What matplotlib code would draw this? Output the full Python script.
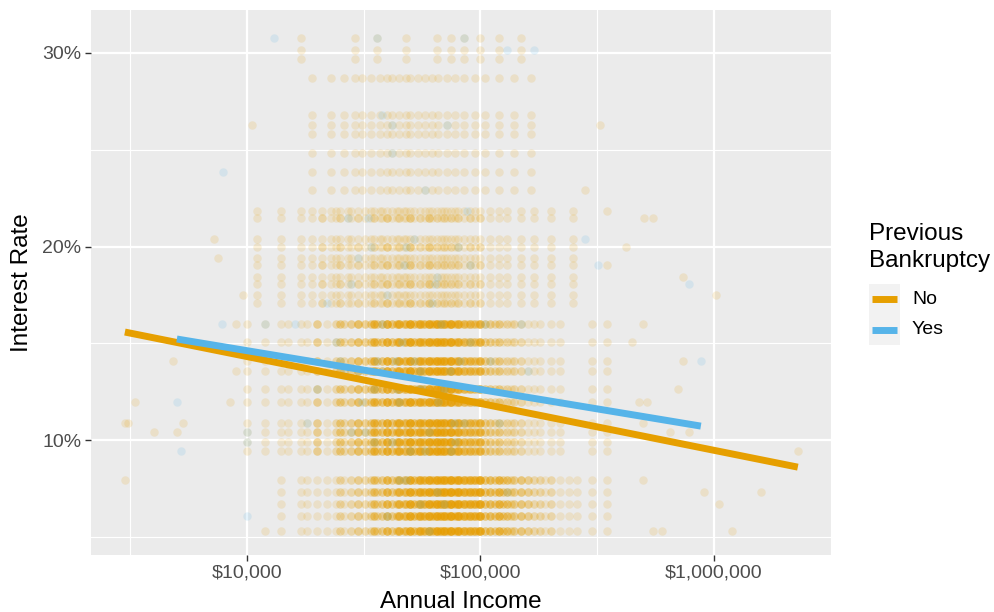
import numpy as np
import matplotlib
matplotlib.use('Agg')
import matplotlib.pyplot as plt
from matplotlib.ticker import FixedLocator, FuncFormatter, NullFormatter
from matplotlib.lines import Line2D
from matplotlib.patches import Rectangle

plt.rcParams['font.family'] = ['Liberation Sans', 'DejaVu Sans']

# groups / colours
groups = ['No', 'Yes']
group_colors = ['#E69F00', '#56B4E9']

# interest-rate bands (%)
dense_low_rates = [5.31, 6.07, 6.72, 7.34, 7.96]
dense_mid_rates = [9.43, 9.92, 10.42, 10.90, 11.98, 12.62, 13.58, 14.07, 15.04, 15.99]
mid_main_rates = [17.09, 18.06, 19.03, 20.00, 21.45]
mid_side_rates = [17.47, 18.45, 19.42, 20.39, 21.85]
sparse_rates = [22.91, 23.87, 24.85, 25.82, 26.30, 26.77, 28.72]
top_rates = [29.69, 30.17, 30.79]

# annual income (thousand $) seen along the dense bands, with how many loans stack there
dense_income_k = [10, 12, 14, 15, 17, 18, 20, 22, 24, 25,
                  26, 28, 30, 32, 34, 35, 36, 38, 40, 42,
                  44, 45, 47, 48, 50, 52, 54, 55, 57, 58,
                  60, 62, 64, 65, 67, 68, 70, 72, 74, 75,
                  78, 80, 82, 85, 88, 90, 93, 95, 98, 100,
                  105, 110, 115, 120, 125, 130, 135, 140, 150, 160,
                  170, 180, 190, 200, 220, 240, 260, 300, 350, 400]
count_low = [0, 0, 1, 0, 1, 1, 1, 1, 1, 2,
             1, 2, 3, 2, 2, 4, 2, 3, 6, 3,
             3, 6, 3, 4, 9, 4, 3, 7, 3, 4,
             9, 4, 3, 8, 3, 4, 9, 4, 3, 9,
             4, 9, 3, 7, 3, 7, 3, 5, 3, 9,
             4, 5, 3, 6, 3, 4, 2, 3, 4, 3,
             2, 2, 1, 2, 1, 1, 1, 1, 1, 0]
count_mid = [1, 1, 1, 1, 1, 1, 3, 1, 2, 3,
             2, 3, 5, 3, 3, 6, 3, 4, 8, 4,
             4, 7, 3, 4, 10, 4, 3, 7, 3, 3,
             9, 4, 3, 8, 3, 4, 8, 3, 3, 8,
             3, 7, 2, 5, 2, 5, 2, 3, 2, 6,
             3, 3, 2, 3, 1, 2, 1, 2, 2, 1,
             1, 1, 0, 1, 1, 0, 0, 1, 1, 0]

mid_income_k = [11, 14, 17, 19, 21, 23, 24, 25,
                27, 28, 30, 32, 34, 35, 37, 38, 40, 42,
                44, 45, 47, 48, 50, 52, 55, 58, 60, 62,
                65, 68, 70, 72, 75, 78, 80, 85, 90, 95,
                100, 110, 120, 130, 150, 170, 200, 250]
count_mid_main = [1, 1, 1, 1, 2, 1, 1, 2,
                  1, 1, 2, 1, 1, 2, 1, 1, 3, 1,
                  1, 2, 1, 1, 3, 1, 2, 1, 3, 1,
                  2, 1, 2, 1, 2, 1, 2, 1, 2, 1,
                  2, 1, 1, 1, 1, 1, 1, 1]

sparse_income_k = [19, 23, 26, 29, 31, 34, 37, 40, 42, 45, 48, 50,
                   54, 58, 62, 66, 72, 78, 85, 95, 105, 120, 140, 165]
top_income_k = [17, 29, 36, 48, 65, 75, 85, 100, 120, 150]

# scattered "No" loans away from the bands
no_out_income_k = [3.0, 3.1, 4.0, 5.0, 5.3, 3.0, 3.3, 8.5, 11.9, 7.2,
                   7.5, 4.8, 9.0, 9.6, 10.5, 9.0, 648, 780, 2300, 906,
                   1590, 1050, 1200, 600, 550, 735, 1020, 740, 700, 495,
                   445, 480, 515, 495, 495, 324, 350, 500, 550, 420,
                   350, 280]
no_out_rate = [10.90, 10.90, 10.42, 10.42, 10.90, 7.96, 11.98, 11.98, 5.31, 20.39,
               19.42, 14.07, 15.99, 17.47, 26.30, 13.58, 10.42, 10.42, 9.43, 7.34,
               7.34, 6.72, 5.31, 5.31, 5.31, 18.45, 17.47, 14.07, 12.62, 15.99,
               15.04, 11.98, 11.98, 10.90, 7.96, 26.30, 21.85, 21.45, 21.45, 20.00,
               19.03, 22.91]

# "Yes" loans
yes_income_k = [40, 55, 65, 48, 75, 35, 60, 85, 45, 70,
                30, 52, 90, 38, 62, 28, 47, 80, 33, 58,
                42, 72, 26, 100, 120, 50, 36, 68, 44, 95,
                32, 78, 55, 24, 110, 40, 65, 30, 52, 88,
                20, 150, 18, 130, 60, 70, 45, 35, 58, 25,
                7.8, 5.0, 5.2, 7.9, 13, 280, 318, 785, 880, 12,
                38, 82, 46, 66, 28, 54, 74, 42, 90, 34,
                10, 10, 10, 16, 36, 85, 130, 170, 42, 38,
                22, 64, 48, 105, 56, 31, 77, 43, 160, 27]
yes_rate = [6.07, 6.72, 7.34, 7.96, 9.43, 9.92, 10.42, 10.90, 11.98, 12.62,
            13.58, 14.07, 15.04, 15.99, 17.09, 18.06, 19.03, 20.00, 21.45, 22.91,
            24.85, 26.30, 13.58, 12.62, 10.90, 9.43, 14.07, 15.99, 12.62, 11.98,
            10.42, 9.92, 13.58, 15.04, 14.07, 17.47, 18.45, 19.42, 20.39, 21.85,
            12.62, 15.99, 10.90, 7.34, 5.31, 6.72, 7.96, 12.62, 9.43, 14.07,
            15.99, 11.98, 9.43, 23.87, 30.79, 20.39, 19.03, 18.06, 14.07, 15.99,
            13.58, 14.07, 15.04, 11.98, 10.42, 12.62, 13.58, 9.92, 19.03, 20.00,
            10.42, 9.92, 6.07, 15.99, 30.79, 30.79, 30.17, 30.17, 26.30, 26.77,
            17.09, 18.06, 20.00, 15.99, 12.62, 11.98, 10.90, 14.07, 13.58, 21.45]

# fitted lines (income $, rate %) at their ends
no_fit_income = [3000, 2290000]
no_fit_rate = [15.58, 8.60]
yes_fit_income = [5010, 880000]
yes_fit_rate = [15.22, 10.72]

# build the "No" point cloud
no_x, no_y = [], []
for r in dense_low_rates:
    v = np.repeat(dense_income_k, count_low)
    no_x.append(v); no_y.append(np.full(len(v), r))
for r in dense_mid_rates:
    v = np.repeat(dense_income_k, count_mid)
    no_x.append(v); no_y.append(np.full(len(v), r))
for r in mid_main_rates:
    v = np.repeat(mid_income_k, count_mid_main)
    no_x.append(v); no_y.append(np.full(len(v), r))
for r in mid_side_rates:
    no_x.append(np.array(mid_income_k)); no_y.append(np.full(len(mid_income_k), r))
for r in sparse_rates:
    no_x.append(np.array(sparse_income_k)); no_y.append(np.full(len(sparse_income_k), r))
for r in top_rates:
    no_x.append(np.array(top_income_k)); no_y.append(np.full(len(top_income_k), r))
no_x.append(np.array(no_out_income_k)); no_y.append(np.array(no_out_rate))
no_x = np.concatenate(no_x) * 1000
no_y = np.concatenate(no_y)

W, H = 994, 612
fig = plt.figure(figsize=(W / 100, H / 100), dpi=100)
ax = fig.add_axes([91 / W, 1 - 555 / H, 740 / W, 545 / H])
ax.set_facecolor('#EBEBEB')
for s in ax.spines.values():
    s.set_visible(False)

ax.scatter(no_x, no_y, s=37, color=group_colors[0], alpha=0.15, lw=0, zorder=2)
ax.scatter(np.array(yes_income_k) * 1000, yes_rate, s=37, color=group_colors[1],
           alpha=0.15, lw=0, zorder=2)

ax.plot(no_fit_income, no_fit_rate, color=group_colors[0], lw=5, solid_capstyle='butt', zorder=3)
ax.plot(yes_fit_income, yes_fit_rate, color=group_colors[1], lw=5, solid_capstyle='butt', zorder=3)

ax.set_xscale('log')
ax.set_xlim(10 ** 3.332, 10 ** 6.502)
ax.set_ylim(4.06, 32.22)

ax.xaxis.set_major_locator(FixedLocator([1e4, 1e5, 1e6]))
ax.xaxis.set_minor_locator(FixedLocator([10 ** 3.5, 10 ** 4.5, 10 ** 5.5, 10 ** 6.5]))
ax.xaxis.set_major_formatter(FuncFormatter(lambda v, p: f'${v:,.0f}'))
ax.xaxis.set_minor_formatter(NullFormatter())
ax.yaxis.set_major_locator(FixedLocator([10, 20, 30]))
ax.yaxis.set_minor_locator(FixedLocator([5, 15, 25]))
ax.yaxis.set_major_formatter(FuncFormatter(lambda v, p: f'{v:.0f}%'))

ax.grid(which='major', color='white', lw=1.6, zorder=0)
ax.grid(which='minor', color='white', lw=0.8, zorder=0)
ax.set_axisbelow(True)
ax.tick_params(which='major', length=4, width=1.0, color='#333333',
               labelcolor='#4D4D4D', labelsize=14, pad=3)
ax.tick_params(which='minor', length=0)

def fx(x):
    return x / W

def fy(y):
    return 1 - y / H

fig.text(fx(461), fy(608), 'Annual Income', ha='center', va='baseline', fontsize=17.5)
fig.text(fx(22), fy(283), 'Interest Rate', ha='center', va='center', rotation=90, fontsize=17.5)

# legend
fig.text(fx(869), fy(223), 'Previous\nBankruptcy', ha='left', va='top', fontsize=17.5, linespacing=1.3)
fig.patches.append(Rectangle((fx(869), fy(345)), 31 / W, 61 / H, transform=fig.transFigure,
                             facecolor='#F2F2F2', edgecolor='none'))
for i, (g, c) in enumerate(zip(groups, group_colors)):
    yc = 299 + i * 30.5
    fig.lines.append(Line2D([fx(872), fx(897)], [fy(yc), fy(yc)], transform=fig.transFigure,
                            color=c, lw=5, solid_capstyle='butt'))
    fig.text(fx(912), fy(yc), g, ha='left', va='center', fontsize=14)

fig.savefig('out.png', dpi=100)
